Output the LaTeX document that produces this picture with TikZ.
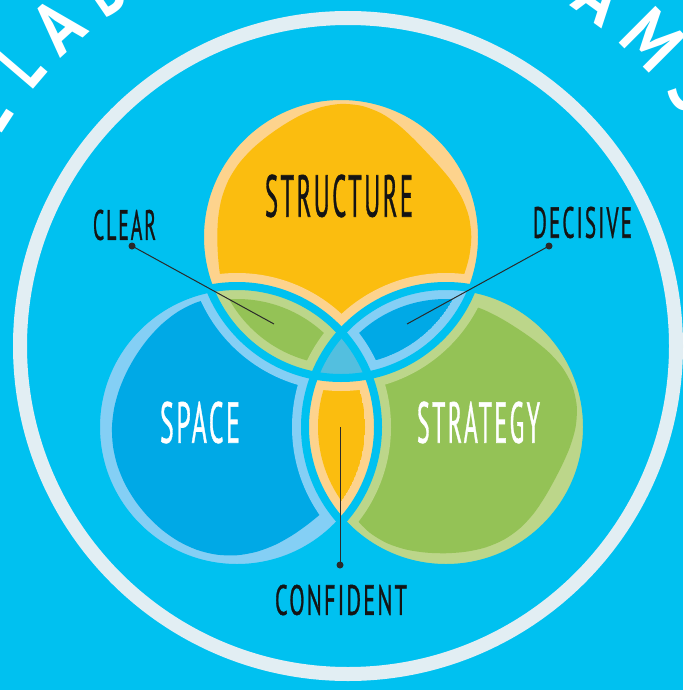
\documentclass[tikz,border=0pt]{standalone}
\usepackage{fontspec}
\usepackage{graphicx}
\newfontfamily\hand[LetterSpace=10,FakeBold=1.2]{PT Sans}
\newfontfamily\handarc{PT Sans Bold}
\definecolor{bg}{HTML}{00C1F0}
\definecolor{ringc}{HTML}{E2EEF3}
\definecolor{dY}{HTML}{FBBD0F}
\definecolor{lY}{HTML}{FDD38D}
\definecolor{dB}{HTML}{00A9E6}
\definecolor{lB}{HTML}{84CFF5}
\definecolor{dG}{HTML}{94C256}
\definecolor{lG}{HTML}{BCD68A}
\definecolor{triC}{HTML}{53BFDF}
\definecolor{lineC}{HTML}{2A2A2A}
\definecolor{txtC}{HTML}{141414}
\newcommand{\lbl}[3]{\resizebox{#1pt}{#2pt}{\hand #3}}
\newcommand{\arclbl}[3]{\resizebox{#1pt}{#2pt}{\handarc #3}}
\begin{document}
\begin{tikzpicture}[x=1pt,y=-1pt,
  lab/.style={inner sep=0pt,outer sep=0pt},
  arcl/.style={inner sep=0pt,outer sep=0pt,anchor=south,text=white},
  dotn/.style={circle,fill=lineC,inner sep=0pt,minimum size=7pt},
  conn/.style={draw=lineC,line width=1pt},
  sep/.style={draw=bg,line width=8pt}]
\clip (0,0) rectangle (683,690);
\fill[bg] (0,0) rectangle (683,690);
% outer ring
\draw[ringc,line width=14pt] (348,346) circle[radius=328];
% letters on arc
\foreach \a/\l/\w in {147/L/26,139.4/L/26,132.2/A/40,124.5/B/32,54.1/A/40,45.1/M/50,36.5/S/32}{
  \node[arcl,rotate=\a-90] at ({348+406*cos(\a)},{346-406*sin(\a)}) {\arclbl{\w}{52}{\l}};
}
\coordinate (A) at (341,237);
\coordinate (B) at (237,427);
\coordinate (C) at (446,427);
% step a: single circles
\fill[lY] (A) circle[radius=141];
\fill[dY] plot[smooth cycle,samples=40,domain=0:351,variable=\t]
  ({341+(127+4*sin(3*\t+20)+3*cos(5*\t+50))*cos(\t)},{237+(127+4*sin(3*\t+20)+3*cos(5*\t+50))*sin(\t)});
\fill[lB] (B) circle[radius=141];
\fill[dB] plot[smooth cycle,samples=40,domain=0:351,variable=\t]
  ({237+(126+4*sin(3*\t+80)+3*cos(4*\t+10))*cos(\t)},{427+(126+4*sin(3*\t+80)+3*cos(4*\t+10))*sin(\t)});
\fill[lG] (C) circle[radius=141];
\fill[dG] plot[smooth cycle,samples=40,domain=0:351,variable=\t]
  ({446+(126+4*sin(3*\t+140)+3*cos(5*\t+70))*cos(\t)},{427+(126+4*sin(3*\t+140)+3*cos(5*\t+70))*sin(\t)});
% step b: single-region borders near the other circles
\begin{scope}\clip (A) circle[radius=141];
  \fill[lY] (B) circle[radius=154]; \fill[lY] (C) circle[radius=154];\end{scope}
\begin{scope}\clip (B) circle[radius=141];
  \fill[lB] (A) circle[radius=154]; \fill[lB] (C) circle[radius=154];\end{scope}
\begin{scope}\clip (C) circle[radius=141];
  \fill[lG] (A) circle[radius=154]; \fill[lG] (B) circle[radius=154];\end{scope}
% step c: pair lenses
% A and B -> green
\begin{scope}\clip (A) circle[radius=141];\clip (B) circle[radius=141];\fill[lG] (A) circle[radius=141];\end{scope}
\begin{scope}\clip (A) circle[radius=128];\clip (B) circle[radius=128];\fill[dG] (A) circle[radius=128];\end{scope}
\begin{scope}\clip (A) circle[radius=141];\clip (B) circle[radius=141];\fill[lG] (C) circle[radius=154];\end{scope}
% A and C -> blue
\begin{scope}\clip (A) circle[radius=141];\clip (C) circle[radius=141];\fill[lB] (A) circle[radius=141];\end{scope}
\begin{scope}\clip (A) circle[radius=128];\clip (C) circle[radius=128];\fill[dB] (A) circle[radius=128];\end{scope}
\begin{scope}\clip (A) circle[radius=141];\clip (C) circle[radius=141];\fill[lB] (B) circle[radius=154];\end{scope}
% B and C -> yellow
\begin{scope}\clip (B) circle[radius=141];\clip (C) circle[radius=141];\fill[lY] (B) circle[radius=141];\end{scope}
\begin{scope}\clip (B) circle[radius=128];\clip (C) circle[radius=128];\fill[dY] (B) circle[radius=128];\end{scope}
\begin{scope}\clip (B) circle[radius=141];\clip (C) circle[radius=141];\fill[lY] (A) circle[radius=154];\end{scope}
% step d: centre
\begin{scope}\clip (A) circle[radius=141];\clip (B) circle[radius=141];\clip (C) circle[radius=141];\fill[triC] (A) circle[radius=141];\end{scope}
% step e: separators
\draw[sep] (A) circle[radius=141];
\draw[sep] (B) circle[radius=141];
\draw[sep] (C) circle[radius=141];
% labels
\node[lab,text=txtC] (structure) at (339,196) {\lbl{148}{42}{STRUCTURE}};
\node[lab,text=white] (space) at (200,422.5) {\lbl{80}{41}{SPACE}};
\node[lab,text=white] (strategy) at (478.5,422.5) {\lbl{123}{41}{STRATEGY}};
\node[lab,text=txtC] (clear) at (124.5,225) {\lbl{63}{30}{CLEAR}};
\node[lab,text=txtC] (decisive) at (582.5,222.5) {\lbl{99}{31}{DECISIVE}};
\node[lab,text=txtC] (confident) at (341,600) {\lbl{132}{30}{CONFIDENT}};
% connectors
\node[dotn] (cldot) at (132,246) {};
\node[dotn] (dedot) at (549,246) {};
\node[dotn] (codot) at (340,565) {};
\coordinate (clend) at (274,324);
\coordinate (deend) at (407,324);
\coordinate (coend) at (340,427);
\draw[conn] (cldot.center) -- (clend);
\draw[conn] (dedot.center) -- (deend);
\draw[conn] (codot.center) -- (coend);
\end{tikzpicture}
\end{document}
